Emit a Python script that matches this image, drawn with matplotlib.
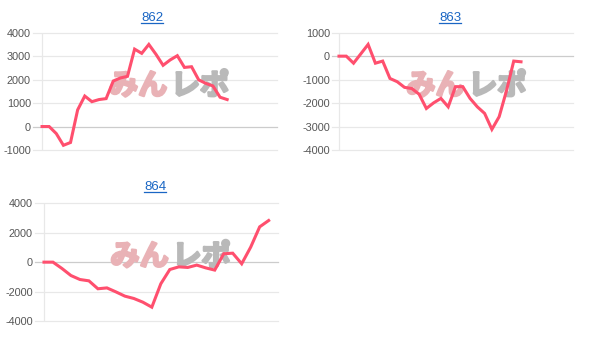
import matplotlib
matplotlib.use("Agg")
import matplotlib.pyplot as plt
from matplotlib.lines import Line2D
import matplotlib.patheffects as pe

# Machine numbers shown as chart titles
machines = ["862", "863", "864"]

# Cumulative difference per day for each machine
values_862 = [0, 0, -300, -800, -680, 710, 1300, 1060, 1150, 1190, 1940, 2070,
              2140, 3300, 3120, 3500, 3080, 2610, 2840, 3020, 2520, 2550, 1990,
              1840, 1730, 1250, 1150]
values_863 = [0, 0, -300, 100, 500, -300, -210, -950, -1090, -1330, -1380,
              -1620, -2230, -1990, -1800, -2160, -1300, -1300, -1800, -2160,
              -2440, -3120, -2580, -1480, -210, -240]
values_864 = [0, 0, -430, -910, -1180, -1270, -1810, -1750, -2020, -2310, -2470,
              -2720, -3060, -1470, -500, -320, -360, -200, -390, -540, 570, 610,
              -110, 1020, 2400, 2830]

# Y-axis ticks for each chart
ticks_862 = [-1000, 0, 1000, 2000, 3000, 4000]
ticks_863 = [-4000, -3000, -2000, -1000, 0, 1000]
ticks_864 = [-4000, -2000, 0, 2000, 4000]

W, H = 603, 347
fig = plt.figure(figsize=(W / 100, H / 100), dpi=100)
fig.patch.set_facecolor("white")

LINE_COLOR = "#ff4f6e"
GRID_COLOR = "#e8e8e8"
BASE_COLOR = "#cccccc"
TITLE_COLOR = "#1a66c4"
FONT = ["Liberation Sans", "DejaVu Sans"]
CJK = ["Noto Sans CJK JP", "DejaVu Sans"]
PINK = "#e9b2b6"
GREY = "#b9b9b9"

# (pixel box left, right, top, bottom), x-limits of each panel
panels = [
    (machines[0], values_862, ticks_862, (33, 277, 32.7, 150), (-1.27, 33.0), 152, 21),
    (machines[1], values_863, ticks_863, (332, 573, 32.7, 150), (-0.96, 32.14), 450, 21),
    (machines[2], values_864, ticks_864, (35, 278, 203.3, 321), (-1.0, 26.04), 155, 190),
]

for title, vals, ticks, (l, r, t, b), xlim, tx, ty in panels:
    ax = fig.add_axes([l / W, (H - b) / H, (r - l) / W, (b - t) / H])
    ax.set_facecolor("none")
    for s in ax.spines.values():
        s.set_visible(False)
    ax.set_xlim(*xlim)
    ax.set_ylim(ticks[0], ticks[-1])
    ax.set_yticks(ticks)
    ax.set_yticklabels([str(v) for v in ticks], fontsize=7.8,
                       color="#555555", family=FONT)
    ax.tick_params(axis="y", length=0, pad=1.5)
    ax.set_xticks([])
    for v in ticks:
        ax.axhline(v, color=BASE_COLOR if v == 0 else GRID_COLOR,
                   lw=0.9, zorder=1, clip_on=False)
    ax.axvline(0, color=GRID_COLOR, lw=0.9, zorder=1)

    # Watermark logo
    ax.text(0.55, 0.55, "みん", transform=ax.transAxes, ha="right",
            va="center", fontsize=21, fontweight="bold", color=PINK,
            family=CJK, zorder=2,
            path_effects=[pe.withStroke(linewidth=1.8, foreground=PINK)])
    ax.text(0.565, 0.55, "レポ", transform=ax.transAxes, ha="left",
            va="center", fontsize=21, fontweight="bold", color=GREY,
            family=CJK, zorder=2,
            path_effects=[pe.withStroke(linewidth=1.8, foreground=GREY)])

    ax.plot(range(len(vals)), vals, color=LINE_COLOR, lw=2.2,
            solid_joinstyle="miter", zorder=3, clip_on=False)

    # Title drawn as an underlined link
    txt = fig.text(tx / W, (H - ty) / H, title, ha="center", va="baseline",
                   fontsize=9.5, color=TITLE_COLOR, family=FONT)
    fig.canvas.draw()
    bb = txt.get_window_extent()
    uy = (H - ty - 1.8) / H
    fig.add_artist(Line2D([bb.x0 / W, bb.x1 / W], [uy, uy],
                          color=TITLE_COLOR, lw=0.9, transform=fig.transFigure))

fig.savefig("out.png", dpi=100, facecolor="white")
